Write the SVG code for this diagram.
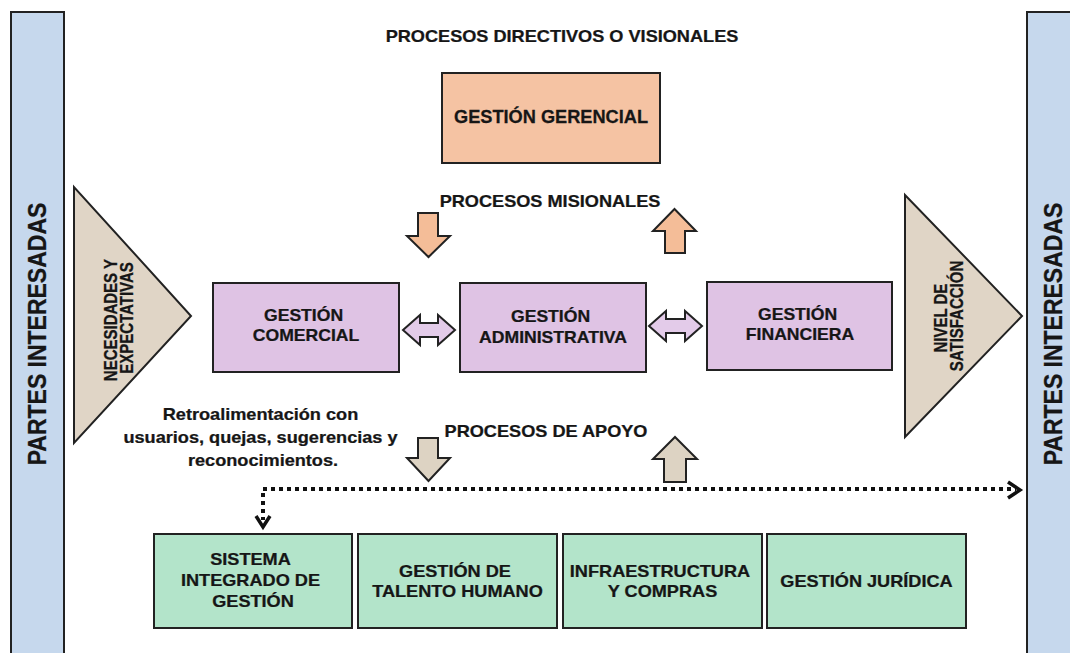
<svg xmlns="http://www.w3.org/2000/svg" width="1070" height="653" viewBox="0 0 1070 653">
<style>
  text { font-family: "Liberation Sans", Arial, sans-serif; font-weight: bold; fill: #161616; stroke: #161616; stroke-width: 0.25; text-anchor: middle; }
  .bar { fill: #c6d8ed; stroke: #222; stroke-width: 2; }
  .tri { fill: #e0d5c6; stroke: #222; stroke-width: 2; }
  .ger { fill: #f5c3a3; stroke: #222; stroke-width: 2; }
  .mis { fill: #dfc3e4; stroke: #222; stroke-width: 2; }
  .apo { fill: #b3e4ca; stroke: #222; stroke-width: 2; }
  .oarr { fill: #f4bd98; stroke: #222; stroke-width: 2; }
  .barr { fill: #ddd3c3; stroke: #222; stroke-width: 2; }
  .darr { fill: #e3cbe9; stroke: #222; stroke-width: 2; }
  .dot { fill: none; stroke: #111; stroke-width: 4; stroke-dasharray: 4 4; }
  .chev { fill: none; stroke: #111; stroke-width: 3.5; stroke-linejoin: miter; }
  .t16 { font-size: 16.5px; }
  .t15 { font-size: 15px; }
</style>

<g id="partes-izq">
  <rect class="bar" x="11" y="12" width="53" height="660"/>
  <text font-size="23" transform="translate(37 334) rotate(-90) scale(1 1.1)" x="0" y="8.2">PARTES INTERESADAS</text>
</g>
<g id="partes-der">
  <rect class="bar" x="1027" y="12" width="60" height="660"/>
  <text font-size="23" transform="translate(1053 334) rotate(-90) scale(1 1.1)" x="0" y="8.2">PARTES INTERESADAS</text>
</g>

<g id="titulo-directivos">
  <text class="t16" transform="translate(562 0) scale(1.1 1)" x="0" y="42">PROCESOS DIRECTIVOS O VISIONALES</text>
</g>

<g id="gestion-gerencial">
  <rect class="ger" x="442" y="73" width="218" height="90"/>
  <text font-size="17.5" transform="translate(551 0) scale(1.04 1)" x="0" y="123">GESTIÓN GERENCIAL</text>
</g>

<g id="titulo-misionales">
  <text class="t16" transform="translate(550 0) scale(1.1 1)" x="0" y="207">PROCESOS MISIONALES</text>
</g>

<g id="necesidades">
  <polygon class="tri" points="74,187 74,443 191,316"/>
  <text class="t15" transform="translate(117 318) rotate(-90) scale(1 1.2)">
    <tspan x="0" y="0">NECESIDADES Y</tspan>
    <tspan x="0" y="13.3">EXPECTATIVAS</tspan>
  </text>
</g>

<g id="satisfaccion">
  <polygon class="tri" points="905,195 905,437 1022,316"/>
  <text class="t15" transform="translate(947 316) rotate(-90) scale(1 1.2)">
    <tspan x="0" y="0">NIVEL DE</tspan>
    <tspan x="0" y="13.3">SATISFACCIÓN</tspan>
  </text>
</g>

<g id="gestion-comercial">
  <rect class="mis" x="213" y="283" width="186" height="89"/>
  <text font-size="16" transform="translate(306 0) scale(1.1 1)">
    <tspan x="0" y="321">GESTIÓN</tspan>
    <tspan x="0" y="341">COMERCIAL</tspan>
  </text>
</g>

<g id="gestion-administrativa">
  <rect class="mis" x="460" y="283" width="186" height="89"/>
  <text font-size="16" transform="translate(553 0) scale(1.1 1)">
    <tspan x="0" y="322">GESTIÓN</tspan>
    <tspan x="0" y="343">ADMINISTRATIVA</tspan>
  </text>
</g>

<g id="gestion-financiera">
  <rect class="mis" x="707" y="282" width="185" height="88"/>
  <text font-size="16" transform="translate(800 0) scale(1.1 1)">
    <tspan x="0" y="320">GESTIÓN</tspan>
    <tspan x="0" y="340">FINANCIERA</tspan>
  </text>
</g>

<g id="retroalimentacion">
  <text class="t16" transform="translate(263 0) scale(1.1 1)">
    <tspan x="0" y="420">Retroalimentación con</tspan>
    <tspan x="0" y="443">usuarios, quejas, sugerencias y</tspan>
    <tspan x="0" y="466">reconocimientos.</tspan>
  </text>
</g>

<g id="titulo-apoyo">
  <text class="t16" transform="translate(546 0) scale(1.1 1)" x="0" y="437">PROCESOS DE APOYO</text>
</g>

<g id="sistema-integrado">
  <rect class="apo" x="154" y="534" width="198" height="94"/>
  <text class="t16" transform="translate(253 0) scale(1.1 1)">
    <tspan x="0" y="565">SISTEMA</tspan>
    <tspan x="0" y="586">INTEGRADO DE</tspan>
    <tspan x="0" y="607">GESTIÓN</tspan>
  </text>
</g>
<g id="talento-humano">
  <rect class="apo" x="358" y="534" width="199" height="94"/>
  <text class="t16" transform="translate(457.5 0) scale(1.1 1)">
    <tspan x="0" y="577">GESTIÓN DE</tspan>
    <tspan x="0" y="597">TALENTO HUMANO</tspan>
  </text>
</g>
<g id="infraestructura">
  <rect class="apo" x="563" y="534" width="199" height="94"/>
  <text class="t16" transform="translate(662.5 0) scale(1.1 1)">
    <tspan x="0" y="577">INFRAESTRUCTURA</tspan>
    <tspan x="0" y="597">Y COMPRAS</tspan>
  </text>
</g>
<g id="gestion-juridica">
  <rect class="apo" x="767" y="534" width="199" height="94"/>
  <text class="t16" transform="translate(866.5 0) scale(1.1 1)" x="0" y="587">GESTIÓN JURÍDICA</text>
</g>

<g id="connectors">
  <polygon class="oarr" points="418,213 438,213 438,236 450,236 428.5,257 407,236 418,236"/>
  <polygon class="oarr" points="665,253 685,253 685,231 696,231 674.5,209 653,231 665,231"/>
  <polygon class="darr" points="403,330 420,315 420,323 438,323 438,315 455,330 438,345 438,337 420,337 420,345"/>
  <polygon class="darr" points="649,326 666,311 666,319 685,319 685,311 702,326 685,341 685,333 666,333 666,341"/>
  <polygon class="barr" points="418,438 438,438 438,458 450,458 428.5,481 407,458 418,458"/>
  <polygon class="barr" points="664,482 686,482 686,459 697,459 675,437 653,459 664,459"/>
  <path class="dot" d="M263,489 H1016"/>
  <path class="dot" d="M263,493 V520"/>
  <polyline class="chev" points="1008,482 1020,490 1008,498"/>
  <polyline class="chev" points="256,516 263,527 270,516"/>
</g>
</svg>
